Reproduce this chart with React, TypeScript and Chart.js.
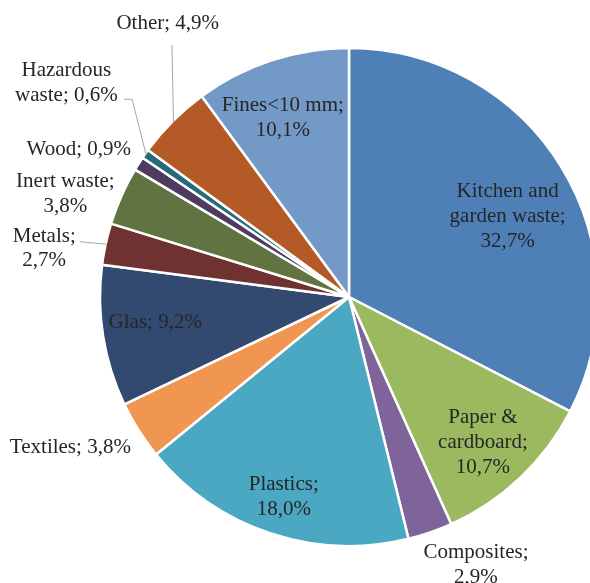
import React, { useEffect, useRef } from "react";
import { Chart, registerables } from "chart.js";

Chart.register(...registerables);

const categories: string[] = [
  "Kitchen and garden waste",
  "Paper & cardboard",
  "Composites",
  "Plastics",
  "Textiles",
  "Glas",
  "Metals",
  "Inert waste",
  "Wood",
  "Hazardous waste",
  "Other",
  "Fines<10 mm",
];

const shares: number[] = [32.7, 10.7, 2.9, 18.0, 3.8, 9.2, 2.7, 3.8, 0.9, 0.6, 4.9, 10.1];

const labelLines: string[][] = [
  ["Kitchen and", "garden waste;", "32,7%"],
  ["Paper &", "cardboard;", "10,7%"],
  ["Composites;", "2,9%"],
  ["Plastics;", "18,0%"],
  ["Textiles; 3,8%"],
  ["Glas; 9,2%"],
  ["Metals;", "2,7%"],
  ["Inert waste;", "3,8%"],
  ["Wood; 0,9%"],
  ["Hazardous", "waste; 0,6%"],
  ["Other; 4,9%"],
  ["Fines<10 mm;", "10,1%"],
];

const colors: string[] = [
  "#4F7FB7",
  "#9BB95E",
  "#7F649C",
  "#4BA8C2",
  "#F09650",
  "#334A70",
  "#6F3230",
  "#617340",
  "#4D3B62",
  "#276A7C",
  "#B35A26",
  "#7399C6",
];

// label centre, relative to pie centre, in units of the radius
const labelPlacement: [number, number][] = [
  [0.637, -0.323],
  [0.538, 0.585],
  [0.51, 1.077],
  [-0.262, 0.804],
  [-1.119, 0.604],
  [-0.778, 0.104],
  [-1.224, -0.195],
  [-1.139, -0.415],
  [-1.085, -0.593],
  [-1.135, -0.86],
  [-0.728, -1.097],
  [-0.266, -0.72],
];

// leader line points (relative, radius units); ends at the slice's outer edge
const leaderPoints: ([number, number][] | null)[] = [
  null, null, null, null, null, null,
  [[-1.081, -0.222]],
  null,
  null,
  [[-0.903, -0.794], [-0.871, -0.794]],
  [[-0.711, -1.012]],
  null,
];

const FONT = "21px 'Liberation Serif', 'Times New Roman', serif";
const LINE_H = 24.8;

const labelPlugin = {
  id: "pieLabels",
  afterDraw(chart: any) {
    const ctx = chart.ctx;
    const meta = chart.getDatasetMeta(0);
    ctx.save();
    meta.data.forEach((arc: any, i: number) => {
      const { x, y, startAngle, endAngle, outerRadius } = arc.getProps(
        ["x", "y", "startAngle", "endAngle", "outerRadius"],
        true
      );
      const R = outerRadius;
      const pts = leaderPoints[i];
      if (pts) {
        const mid = (startAngle + endAngle) / 2;
        const ex = x + (R - 1) * Math.cos(mid);
        const ey = y + (R - 1) * Math.sin(mid);
        ctx.beginPath();
        ctx.strokeStyle = "#A6A6A6";
        ctx.lineWidth = 1;
        pts.forEach((p, k) => {
          const px = x + p[0] * R;
          const py = y + p[1] * R;
          if (k === 0) ctx.moveTo(px, py);
          else ctx.lineTo(px, py);
        });
        ctx.lineTo(ex, ey);
        ctx.stroke();
      }
      const [rx, ry] = labelPlacement[i];
      const cx = x + rx * R;
      const cy = y + ry * R;
      const lines = labelLines[i];
      ctx.font = FONT;
      ctx.fillStyle = "#262626";
      ctx.textAlign = "center";
      ctx.textBaseline = "middle";
      const top = cy - ((lines.length - 1) * LINE_H) / 2;
      lines.forEach((ln, k) => ctx.fillText(ln, cx, top + k * LINE_H));
    });
    ctx.restore();
  },
};

export default function App() {
  const ref = useRef<HTMLCanvasElement | null>(null);
  useEffect(() => {
    if (!ref.current) return;
    const chart = new Chart(ref.current, {
      type: "pie",
      data: {
        labels: categories,
        datasets: [
          {
            data: shares,
            backgroundColor: colors,
            borderColor: "#FFFFFF",
            borderWidth: 2.5,
          },
        ],
      },
      options: {
        responsive: false,
        animation: false,
        radius: 249,
        layout: { padding: 0 },
        plugins: {
          legend: { display: false },
          tooltip: { enabled: false },
        },
      },
      plugins: [labelPlugin],
    });
    return () => chart.destroy();
  }, []);
  return (
    <div
      style={{
        position: "fixed",
        left: 0,
        top: 0,
        width: 590,
        height: 583,
        overflow: "hidden",
        background: "#FFFFFF",
      }}
    >
      <canvas
        ref={ref}
        width={698}
        height={594}
        style={{ position: "absolute", left: 0, top: 0 }}
      />
    </div>
  );
}
